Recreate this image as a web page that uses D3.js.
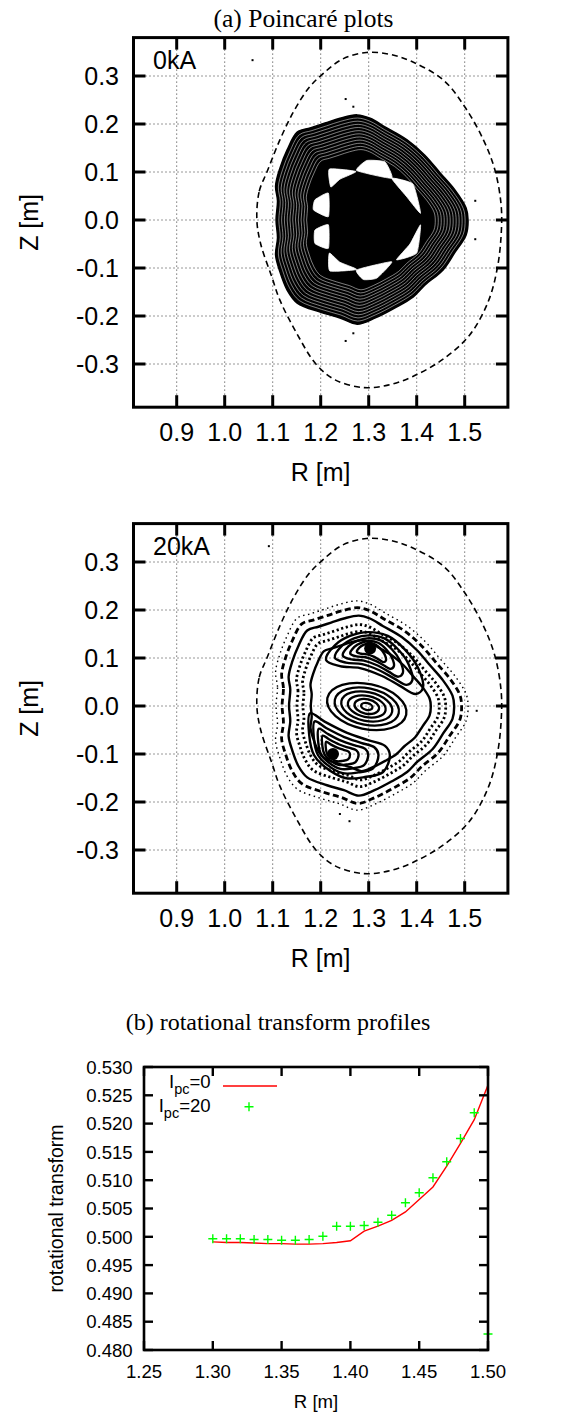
<!DOCTYPE html>
<html>
<head>
<meta charset="utf-8">
<script src="https://cdn.jsdelivr.net/npm/d3@7"></script>
<style>
body{margin:0;background:#fff}
svg text{font-family:"Liberation Sans",Arial,Helvetica,sans-serif;fill:#000}
svg text.serif{font-family:"Liberation Serif","Times New Roman",serif}
</style>
</head>
<body>
<svg id="fig" width="572" height="1414"></svg>
<script>
// ---- panel (a): Poincare plots, R-Z in metres ----
var rTicks = [0.9, 1.0, 1.1, 1.2, 1.3, 1.4, 1.5]
var zTicks = [-0.3, -0.2, -0.1, 0.0, 0.1, 0.2, 0.3]
var panelLabels = ['0kA', '20kA']

// dashed vessel / boundary line
var wall = [
  [1.067, 0.00], [1.072, 0.06], [1.088, 0.10], [1.115, 0.167], [1.142, 0.223],
  [1.175, 0.275], [1.205, 0.305], [1.245, 0.335], [1.295, 0.349], [1.345, 0.345],
  [1.390, 0.330], [1.455, 0.292], [1.500, 0.236], [1.539, 0.167], [1.563, 0.104],
  [1.576, 0.03], [1.576, -0.03], [1.568, -0.10], [1.549, -0.17], [1.510, -0.24],
  [1.455, -0.29], [1.392, -0.326], [1.340, -0.344], [1.288, -0.349], [1.230, -0.333],
  [1.190, -0.300], [1.150, -0.236], [1.115, -0.167], [1.098, -0.118], [1.075, -0.05]
]

// outermost traced surface
var lcfs = [
  [1.107, 0.000], [1.110, 0.040], [1.106, 0.071], [1.115, 0.108], [1.130, 0.146],
  [1.151, 0.183], [1.178, 0.192], [1.209, 0.202], [1.240, 0.212], [1.276, 0.219],
  [1.303, 0.212], [1.334, 0.194], [1.380, 0.167], [1.417, 0.135], [1.449, 0.098],
  [1.480, 0.062], [1.503, 0.025], [1.507, 0.000], [1.503, -0.031], [1.480, -0.067],
  [1.455, -0.104], [1.418, -0.135], [1.393, -0.160], [1.355, -0.183], [1.314, -0.204],
  [1.276, -0.217], [1.240, -0.204], [1.199, -0.192], [1.151, -0.173], [1.130, -0.146],
  [1.115, -0.108], [1.106, -0.073], [1.110, -0.037]
]
var ringCenter = [1.30, 0.0]
// relative size of the thin white gaps between nested surfaces (0kA)
var ringGaps0 = [0.97, 0.94, 0.91, 0.88, 0.85, 0.82, 0.79, 0.76, 0.73, 0.70, 0.67]

// white island gaps around the core (0kA), in R,Z
var lenses0 = [
  [[1.218, 0.106], [1.2735, 0.101], [1.240, 0.085], [1.221, 0.069]],
  [[1.275, 0.103], [1.296, 0.124], [1.334, 0.121], [1.348, 0.087]],
  [[1.348, 0.087], [1.392, 0.075], [1.408, 0.014], [1.378, 0.050]],
  [[1.408, -0.010], [1.400, -0.069], [1.358, -0.083], [1.386, -0.050]],
  [[1.348, -0.087], [1.317, -0.121], [1.289, -0.124], [1.275, -0.104]],
  [[1.275, -0.103], [1.219, -0.106], [1.218, -0.069], [1.240, -0.088]],
  [[1.216, 0.056], [1.188, 0.042], [1.185, 0.021], [1.216, 0.007]],
  [[1.216, -0.010], [1.188, -0.021], [1.188, -0.049], [1.216, -0.059]]
]
// stray orbit points
var strays0 = [[1.058, 0.333], [1.252, 0.252], [1.268, 0.236], [1.268, -0.236], [1.252, -0.252], [1.522, 0.04], [1.522, -0.04]]
var strays20 = [[1.092, 0.333], [1.525, -0.010], [1.26, -0.24], [1.24, -0.225]]

// 20kA: nested outer layers (relative size, style)
var layerSize20 = [0.935, 0.86, 0.775, 0.71, 0.625]
var layerStyle20 = ['dash', 'solid', 'dot', 'dot', 'solid']

// 20kA island families: outer contour, O-point and relative sizes of nested contours
var topIsland20 = [
  [1.211, 0.096], [1.230, 0.127], [1.261, 0.146], [1.299, 0.154], [1.340, 0.146],
  [1.376, 0.117], [1.403, 0.079], [1.413, 0.0375], [1.398, 0.025], [1.365, 0.042],
  [1.328, 0.0625], [1.282, 0.079], [1.240, 0.083]
]
var topO20 = [1.303, 0.120]
var botIsland20 = [
  [1.178, -0.015], [1.209, -0.033], [1.255, -0.056], [1.2985, -0.071], [1.334, -0.083],
  [1.344, -0.102], [1.330, -0.1375], [1.292, -0.148], [1.251, -0.150], [1.209, -0.127],
  [1.186, -0.102], [1.176, -0.060]
]
var botO20 = [1.2256, -0.100]
var islandSizes20 = [1, 0.8, 0.62, 0.45, 0.3]
// magnetic axis family: centre, tilt (deg), semi-axes (m)
var axis20 = {R: 1.296, Z: -0.001, tilt: 12,
  a: [0.012, 0.026, 0.040, 0.054, 0.068, 0.084],
  b: [0.007, 0.015, 0.022, 0.030, 0.038, 0.047]}

// ---- panel (b): rotational transform profiles ----
var iotaTicks = [0.480, 0.485, 0.490, 0.495, 0.500, 0.505, 0.510, 0.515, 0.520, 0.525, 0.530]
var rProfTicks = [1.25, 1.30, 1.35, 1.40, 1.45, 1.50]
var rPc0 = [1.30, 1.31, 1.32, 1.33, 1.34, 1.35, 1.36, 1.37, 1.38, 1.39, 1.40, 1.41, 1.42, 1.43, 1.44, 1.45, 1.46, 1.47, 1.48, 1.49, 1.50]
var iotaPc0 = [0.4991, 0.4990, 0.4990, 0.4989, 0.4988, 0.4988, 0.4987, 0.4987, 0.4988, 0.4990, 0.4993, 0.5010, 0.5019, 0.5029, 0.5044, 0.5066, 0.5088, 0.5125, 0.5165, 0.5207, 0.5268]
var rPc20 = [1.30, 1.31, 1.32, 1.33, 1.34, 1.35, 1.36, 1.37, 1.38, 1.39, 1.40, 1.41, 1.42, 1.43, 1.44, 1.45, 1.46, 1.47, 1.48, 1.49, 1.50]
var iotaPc20 = [0.49965, 0.49965, 0.49965, 0.49952, 0.49952, 0.4994, 0.4994, 0.49952, 0.5001, 0.50187, 0.50187, 0.5020, 0.50258, 0.50382, 0.50601, 0.50777, 0.51042, 0.51325, 0.51737, 0.52191, 0.48283]

var svg = d3.select('#fig')

function poincare(top, idx){
  var x = d3.scaleLinear().domain([0.81, 1.59]).range([133.5, 507.9])
  var y = d3.scaleLinear().domain([-0.39, 0.38]).range([top + 369.6, top])
  var g = svg.append('g')
  var x0 = x.range()[0], x1 = x.range()[1], y0 = y.range()[1], y1 = y.range()[0]

  // grid
  g.selectAll('line.gx').data(rTicks).join('line')
    .attr('x1', d => x(d)).attr('x2', d => x(d)).attr('y1', y0).attr('y2', y1)
    .attr('stroke', '#333').attr('stroke-width', 1).attr('stroke-dasharray', '1,3')
  g.selectAll('line.gy').data(zTicks).join('line')
    .attr('y1', d => y(d)).attr('y2', d => y(d)).attr('x1', x0).attr('x2', x1)
    .attr('stroke', '#333').attr('stroke-width', 1).attr('stroke-dasharray', '1,3')

  var closed = d3.line().x(d => x(d[0])).y(d => y(d[1])).curve(d3.curveCatmullRomClosed)
  var lensLine = d3.line().x(d => x(d[0])).y(d => y(d[1])).curve(d3.curveCardinalClosed.tension(0.55))
  var scaleAbout = (p, s) => {
    var cx = x(p[0]), cy = y(p[1])
    return 'translate(' + cx + ',' + cy + ') scale(' + s + ') translate(' + (-cx) + ',' + (-cy) + ')'
  }

  if (idx == 0){
    g.append('path').attr('d', closed(lcfs)).attr('fill', '#000').attr('stroke', '#000').attr('stroke-width', 1.5)
    g.selectAll('path.gap').data(ringGaps0).join('path')
      .attr('d', closed(lcfs)).attr('transform', d => scaleAbout(ringCenter, d))
      .attr('fill', 'none').attr('stroke', '#fff').attr('stroke-width', 0.55).attr('stroke-opacity', 0.9)
      .attr('vector-effect', 'non-scaling-stroke')
    g.selectAll('path.lens').data(lenses0).join('path')
      .attr('d', lensLine).attr('fill', '#fff').attr('stroke', '#fff').attr('stroke-width', 0.8).attr('stroke-linejoin', 'round')
    g.selectAll('rect.stray').data(strays0).join('rect')
      .attr('x', d => x(d[0]) - 1).attr('y', d => y(d[1]) - 1).attr('width', 2).attr('height', 2).attr('fill', '#000')
  } else {
    g.append('path').attr('d', closed(lcfs))
      .attr('fill', 'none').attr('stroke', '#000').attr('stroke-width', 1.4).attr('stroke-dasharray', '1.5,3.5')
    g.selectAll('path.layer').data(layerSize20).join('path')
      .attr('d', closed(lcfs)).attr('transform', d => scaleAbout(ringCenter, d))
      .attr('fill', 'none').attr('stroke', '#000')
      .attr('vector-effect', 'non-scaling-stroke')
      .attr('stroke-width', (d, i) => layerStyle20[i] == 'solid' ? 2.4 : 2.8)
      .attr('stroke-dasharray', (d, i) => layerStyle20[i] == 'dash' ? '6,3.5' : layerStyle20[i] == 'dot' ? '2.2,2.6' : null)
    ;[[topIsland20, topO20], [botIsland20, botO20]].forEach(function(f){
      g.selectAll(null).data(islandSizes20).join('path')
        .attr('d', closed(f[0])).attr('transform', d => scaleAbout(f[1], d))
        .attr('fill', 'none').attr('stroke', '#000').attr('stroke-width', 2.4)
        .attr('vector-effect', 'non-scaling-stroke')
      g.append('circle').attr('cx', x(f[1][0])).attr('cy', y(f[1][1])).attr('r', 6).attr('fill', '#000')
    })
    g.selectAll(null).data(axis20.a).join('ellipse')
      .attr('cx', x(axis20.R)).attr('cy', y(axis20.Z))
      .attr('rx', d => x(axis20.R + d) - x(axis20.R))
      .attr('ry', (d, i) => y(axis20.Z) - y(axis20.Z + axis20.b[i]))
      .attr('transform', 'rotate(' + axis20.tilt + ',' + x(axis20.R) + ',' + y(axis20.Z) + ')')
      .attr('fill', 'none').attr('stroke', '#000').attr('stroke-width', 2.3)
    g.selectAll('rect.stray').data(strays20).join('rect')
      .attr('x', d => x(d[0]) - 1).attr('y', d => y(d[1]) - 1).attr('width', 2).attr('height', 2).attr('fill', '#000')
  }

  g.append('path').attr('d', closed(wall))
    .attr('fill', 'none').attr('stroke', '#000').attr('stroke-width', 1.6).attr('stroke-dasharray', '6,4')

  // frame + inward ticks on all sides
  g.append('rect').attr('x', x0).attr('y', y0).attr('width', x1 - x0).attr('height', y1 - y0)
    .attr('fill', 'none').attr('stroke', '#000').attr('stroke-width', 3)
  rTicks.forEach(function(d){
    g.append('line').attr('x1', x(d)).attr('x2', x(d)).attr('y1', y1).attr('y2', y1 - 12).attr('stroke', '#000').attr('stroke-width', 3)
    g.append('line').attr('x1', x(d)).attr('x2', x(d)).attr('y1', y0).attr('y2', y0 + 12).attr('stroke', '#000').attr('stroke-width', 3)
  })
  zTicks.forEach(function(d){
    g.append('line').attr('y1', y(d)).attr('y2', y(d)).attr('x1', x0).attr('x2', x0 + 12).attr('stroke', '#000').attr('stroke-width', 3)
    g.append('line').attr('y1', y(d)).attr('y2', y(d)).attr('x1', x1).attr('x2', x1 - 12).attr('stroke', '#000').attr('stroke-width', 3)
  })

  g.selectAll('text.xt').data(rTicks).join('text')
    .attr('x', d => x(d)).attr('y', y1 + 34).attr('text-anchor', 'middle').attr('font-size', 25)
    .text(d => d.toFixed(1))
  g.selectAll('text.yt').data(zTicks).join('text')
    .attr('x', 119).attr('y', d => y(d) + 9).attr('text-anchor', 'end').attr('font-size', 25)
    .text(d => d.toFixed(1))
  g.append('text').attr('x', (x0 + x1) / 2).attr('y', y1 + 74).attr('text-anchor', 'middle').attr('font-size', 25).text('R [m]')
  g.append('text').attr('transform', 'translate(38,' + ((y0 + y1) / 2) + ') rotate(-90)')
    .attr('text-anchor', 'middle').attr('font-size', 25).text('Z [m]')
  g.append('text').attr('x', 153).attr('y', y0 + 31.5).attr('font-size', 25).text(panelLabels[idx])
}

svg.append('text').attr('class', 'serif').attr('x', 303.5).attr('y', 27).attr('text-anchor', 'middle')
  .attr('font-size', 25.5).text('(a) Poincaré plots')
poincare(37.6, 0)
poincare(523.6, 1)

// ---- panel (b) ----
svg.append('text').attr('class', 'serif').attr('x', 278).attr('y', 1030).attr('text-anchor', 'middle')
  .attr('font-size', 24).text('(b) rotational transform profiles')

var px = d3.scaleLinear().domain([1.25, 1.50]).range([144, 488])
var py = d3.scaleLinear().domain([0.480, 0.530]).range([1350, 1067])
var gb = svg.append('g')

gb.append('clipPath').attr('id', 'clipb').append('rect')
  .attr('x', 144).attr('y', 1067).attr('width', 344).attr('height', 283)
var pts0 = rPc0.map((r, i) => [r, iotaPc0[i]])
var pts20 = rPc20.map((r, i) => [r, iotaPc20[i]])
gb.append('path').attr('clip-path', 'url(#clipb)')
  .attr('d', d3.line().x(d => px(d[0])).y(d => py(d[1]))(pts0))
  .attr('fill', 'none').attr('stroke', '#f00').attr('stroke-width', 1.4)
var plus = (cx, cy) => 'M' + (cx - 4.5) + ',' + cy + 'H' + (cx + 4.5) + 'M' + cx + ',' + (cy - 4.5) + 'V' + (cy + 4.5)
gb.selectAll('path.pt').data(pts20).join('path')
  .attr('d', d => plus(px(d[0]), py(d[1])))
  .attr('stroke', '#0f0').attr('stroke-width', 1.4).attr('fill', 'none')

gb.append('rect').attr('x', 144).attr('y', 1067).attr('width', 344).attr('height', 283)
  .attr('fill', 'none').attr('stroke', '#000').attr('stroke-width', 2.6)
rProfTicks.forEach(function(d){
  gb.append('line').attr('x1', px(d)).attr('x2', px(d)).attr('y1', 1350).attr('y2', 1341).attr('stroke', '#000').attr('stroke-width', 2.4)
  gb.append('line').attr('x1', px(d)).attr('x2', px(d)).attr('y1', 1067).attr('y2', 1076).attr('stroke', '#000').attr('stroke-width', 2.4)
})
iotaTicks.forEach(function(d){
  gb.append('line').attr('y1', py(d)).attr('y2', py(d)).attr('x1', 144).attr('x2', 153).attr('stroke', '#000').attr('stroke-width', 2.4)
  gb.append('line').attr('y1', py(d)).attr('y2', py(d)).attr('x1', 488).attr('x2', 479).attr('stroke', '#000').attr('stroke-width', 2.4)
})
gb.selectAll('text.xt').data(rProfTicks).join('text')
  .attr('x', d => px(d)).attr('y', 1378).attr('text-anchor', 'middle').attr('font-size', 18.6)
  .text(d => d.toFixed(2))
gb.selectAll('text.yt').data(iotaTicks).join('text')
  .attr('x', 132.7).attr('y', d => py(d) + 6.7).attr('text-anchor', 'end').attr('font-size', 18.6)
  .text(d => d.toFixed(3))
gb.append('text').attr('x', 316).attr('y', 1408).attr('text-anchor', 'middle').attr('font-size', 18.6).text('R [m]')
gb.append('text').attr('transform', 'translate(63,1208.5) rotate(-90)')
  .attr('text-anchor', 'middle').attr('font-size', 19.5).text('rotational transform')

// legend
var leg = [{pc: '0', y: 1088}, {pc: '20', y: 1112}]
leg.forEach(function(d){
  var t = gb.append('text').attr('x', 210.7).attr('y', d.y).attr('text-anchor', 'end').attr('font-size', 18.6)
  t.append('tspan').text('I')
  t.append('tspan').attr('dy', 6).attr('font-size', 14.5).text('pc')
  t.append('tspan').attr('dy', -6).text('=' + d.pc)
})
gb.append('line').attr('x1', 223).attr('x2', 277).attr('y1', 1086).attr('y2', 1086).attr('stroke', '#f00').attr('stroke-width', 1.4)
gb.append('path').attr('d', plus(249, 1106.7)).attr('stroke', '#0f0').attr('stroke-width', 1.4)
</script>
</body>
</html>
